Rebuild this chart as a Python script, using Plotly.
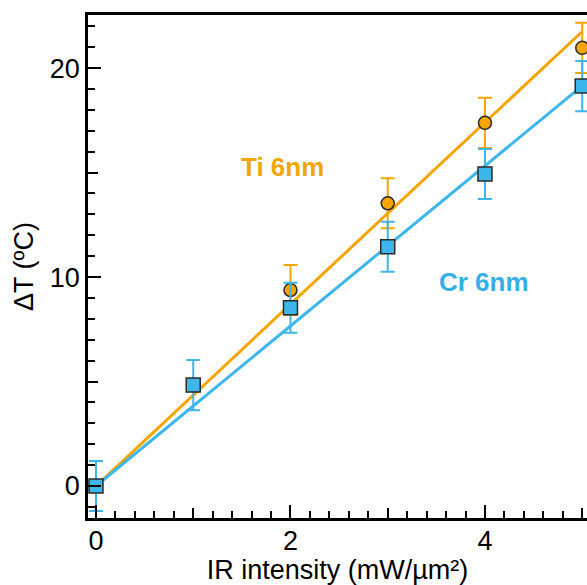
import plotly.graph_objects as go

# ---- data ----
ti_x = [0, 2, 3, 4, 5]
ti_y = [0.0, 9.38, 13.53, 17.38, 20.97]
ti_err = [1.2, 1.2, 1.2, 1.2, 1.2]

cr_x = [0, 1, 2, 3, 4, 5]
cr_y = [0.0, 4.83, 8.53, 11.45, 14.93, 19.14]
cr_err = [1.2, 1.2, 1.2, 1.2, 1.2, 1.2]

fit_x = [0, 5]
ti_fit = [0.0, 21.75]
cr_fit = [0.0, 19.15]

x_major = [0, 2, 4]
x_mid = [1, 3, 5]
y_major = [0, 10, 20]
y_mid = [5, 15]

ORANGE = "#F5A500"
BLUE = "#3DB6EC"
EDGE = "#2a2a2a"
FONT = "Liberation Sans, Arial, sans-serif"

fig = go.Figure()

fig.add_trace(go.Scatter(x=fit_x, y=ti_fit, mode="lines",
                         line=dict(color=ORANGE, width=3), showlegend=False, hoverinfo="skip"))
fig.add_trace(go.Scatter(x=fit_x, y=cr_fit, mode="lines",
                         line=dict(color=BLUE, width=3), showlegend=False, hoverinfo="skip"))

fig.add_trace(go.Scatter(
    x=ti_x, y=ti_y, mode="markers", name="Ti 6nm",
    marker=dict(symbol="circle", size=13, color=ORANGE, line=dict(color=EDGE, width=1.5)),
    error_y=dict(type="data", array=ti_err, visible=True, color=ORANGE, thickness=2, width=7),
    showlegend=False))
fig.add_trace(go.Scatter(
    x=cr_x, y=cr_y, mode="markers", name="Cr 6nm",
    marker=dict(symbol="square", size=14, color=BLUE, line=dict(color=EDGE, width=1.5)),
    error_y=dict(type="data", array=cr_err, visible=True, color=BLUE, thickness=2, width=7),
    showlegend=False))

# helper trace to anchor overlay axes for medium ticks
fig.add_trace(go.Scatter(x=[None], y=[None], xaxis="x2", yaxis="y2", showlegend=False))

XR = [-0.082, 5.049]
YR = [-1.53, 22.54]

fig.add_annotation(x=1.92, y=15.26, text="<b>Ti 6nm</b>", showarrow=False,
                   font=dict(family=FONT, size=26, color=ORANGE))
fig.add_annotation(x=3.99, y=9.78, text="<b>Cr 6nm</b>", showarrow=False,
                   font=dict(family=FONT, size=26, color="#36AEE8"))

fig.update_layout(
    width=587, height=585,
    margin=dict(l=88, r=0, t=15, b=67, autoexpand=False),
    paper_bgcolor="white", plot_bgcolor="white",
    font=dict(family=FONT, size=26, color="black"),
    xaxis=dict(
        range=XR, showgrid=False, zeroline=False, automargin=False,
        showline=True, linecolor="black", linewidth=2.5, mirror=True,
        tickmode="array", tickvals=x_major, ticktext=[str(v) for v in x_major],
        ticks="inside", ticklen=13, tickwidth=2, tickcolor="black",
        ticklabelstandoff=-3,
        minor=dict(dtick=0.2, tick0=0, ticks="inside", ticklen=7, tickwidth=2, tickcolor="black", showgrid=False),
        tickfont=dict(size=27),
        title=dict(text="IR intensity (mW/µm²)", font=dict(size=27), standoff=11),
    ),
    yaxis=dict(
        range=YR, showgrid=False, zeroline=False, automargin=False,
        showline=True, linecolor="black", linewidth=2.5,
        tickmode="array", tickvals=y_major, ticktext=[str(v) for v in y_major],
        ticks="inside", ticklen=13, tickwidth=2, tickcolor="black",
        ticklabelstandoff=0,
        minor=dict(dtick=1, tick0=0, ticks="inside", ticklen=7, tickwidth=2, tickcolor="black", showgrid=False),
        tickfont=dict(size=27),
        title=dict(text="ΔT (ºC)", font=dict(size=27), standoff=9),
    ),
    xaxis2=dict(
        range=XR, overlaying="x", anchor="y2", side="bottom",
        showgrid=False, zeroline=False, showline=False,
        tickmode="array", tickvals=x_mid, ticks="inside", ticklen=10, tickwidth=2,
        tickcolor="black", showticklabels=False,
    ),
    yaxis2=dict(
        range=YR, overlaying="y", anchor="x2", side="left",
        showgrid=False, zeroline=False, showline=False,
        tickmode="array", tickvals=y_mid, ticks="inside", ticklen=10, tickwidth=2,
        tickcolor="black", showticklabels=False,
    ),
)

fig.write_html("out.html", config={"displayModeBar": False},
               post_script="document.body.style.margin='0';document.body.style.overflow='hidden';")
